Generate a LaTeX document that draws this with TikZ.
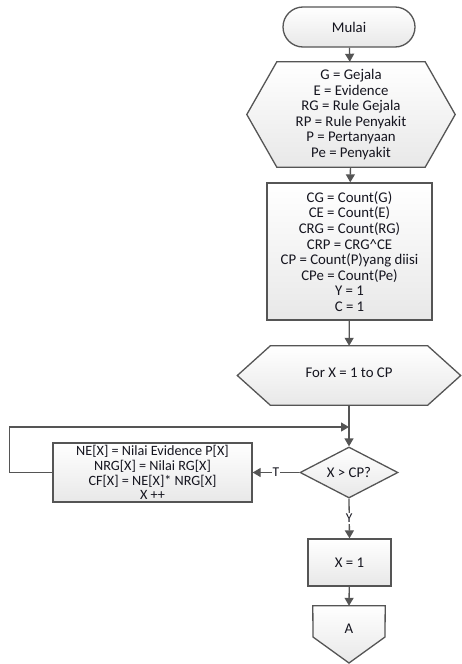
\documentclass[tikz,border=0pt]{standalone}
\usepackage{fontspec}
\setmainfont{Carlito}
\usetikzlibrary{arrows.meta,calc,shapes.geometric,backgrounds}
\definecolor{edge}{HTML}{555555}
\definecolor{fillc}{HTML}{E8E8E8}
\definecolor{ink}{HTML}{15151F}
\begin{document}
\begin{tikzpicture}[x=1pt,y=-1pt,
  shp/.style={draw=edge, line width=1.3pt, top color=white, bottom color=fillc},
  txt/.style={font=\fontsize{14.8}{15.6}\selectfont, align=center, text=ink, inner sep=0pt},
  conn/.style={draw=edge, line width=1.3pt, -{Triangle[width=9pt,length=8pt]}},
  lbl/.style={fill=white, inner sep=1pt, font=\fontsize{13.5}{14}\selectfont, text=ink}]
\useasboundingbox (0,0) rectangle (461,664);

\node[shp, txt, rounded corners=20pt, minimum width=132pt, minimum height=40pt] (start) at (349,27) {Mulai};

\node[txt, minimum width=208pt, minimum height=105pt] (h1) at (351,114.5)
  {G = Gejala\\E = Evidence\\RG = Rule Gejala\\RP = Rule Penyakit\\P = Pertanyaan\\Pe = Penyakit};

\node[shp, txt, minimum width=165pt, minimum height=137pt] (b2) at (349.5,251.5)
  {CG = Count(G)\\CE = Count(E)\\CRG = Count(RG)\\CRP = CRG\^{}CE\\CP = Count(P)yang diisi\\CPe = Count(Pe)\\Y = 1\\C = 1};

\node[txt, minimum width=223pt, minimum height=59pt] (h2) at (349,375.5)
  {\raisebox{6pt}{For X = 1 to CP}};

\coordinate (j) at (349,427);

\node[shp, txt, diamond, aspect=1.92, minimum width=98pt, minimum height=51pt] (d) at (349,472.5) {X > CP?};

\node[shp, txt, font=\fontsize{14.2}{14.8}\selectfont, minimum width=199pt, minimum height=59pt] (loop) at (152.5,472.5)
  {NE[X] = Nilai Evidence P[X]\\NRG[X] = Nilai RG[X]\\CF[X] = NE[X]* NRG[X]\\X ++};

\node[shp, txt, minimum width=83pt, minimum height=47pt] (x1) at (349.5,562.5) {X = 1};

\node[txt, minimum width=72pt, minimum height=46pt] (A) at (349,629) {A};

\begin{scope}[on background layer]
  \path[shp] (h1.west) -- ([xshift=30pt]h1.north west) -- ([xshift=-30pt]h1.north east)
    -- (h1.east) -- ([xshift=-30pt]h1.south east) -- ([xshift=30pt]h1.south west) -- cycle;
  \path[shp] (h2.west) -- ([xshift=33pt]h2.north west) -- ([xshift=-33pt]h2.north east)
    -- (h2.east) -- ([xshift=-33pt]h2.south east) -- ([xshift=33pt]h2.south west) -- cycle;
  \path[shp] (A.north west) -- (A.north east) -- (385,637) -- (349,663) -- (313,637) -- cycle;
\end{scope}

\draw[conn] (start) -- (h1);
\draw[conn] (h1) -- (b2);
\draw[conn] (b2) -- (h2);
\draw[conn] (h2) -- (d);
\draw[conn] (loop.west) -- ++(-43,0) |- (j);
\draw[conn] (d.west) -- node[lbl] {T} (loop.east);
\draw[conn] (d.south) -- node[lbl] {Y} (x1.north);
\draw[conn] (x1) -- (A.north);
\end{tikzpicture}
\end{document}
